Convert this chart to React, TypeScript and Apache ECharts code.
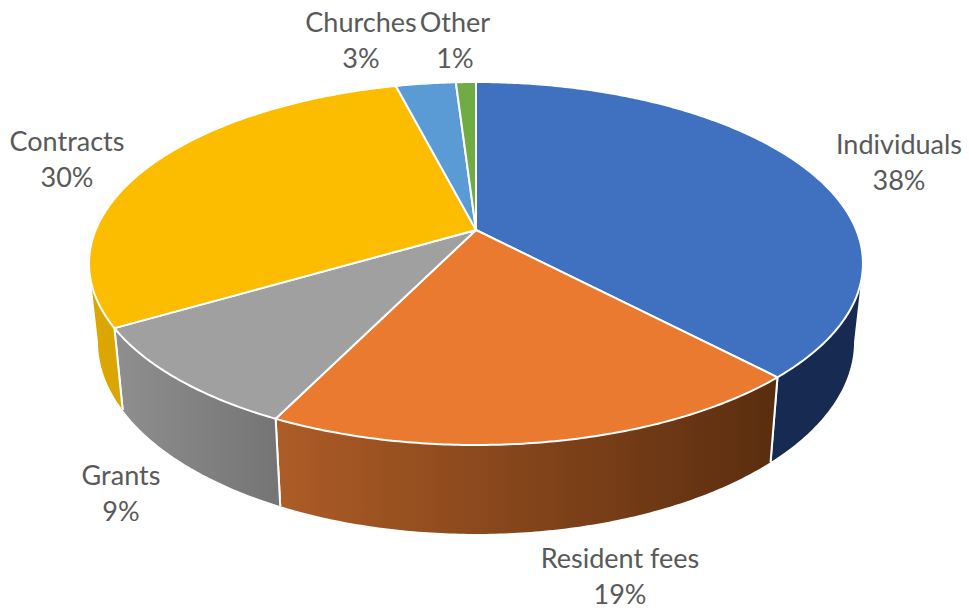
import React, { useEffect, useRef } from "react";
import * as echarts from "echarts";

const categories = ["Individuals", "Resident fees", "Grants", "Contracts", "Churches", "Other"];
const values = [38.0, 19.3, 9.3, 29.5, 3.0, 1.0];

const topColors = ["#4070c0", "#e97a30", "#a0a0a0", "#fcbc00", "#5b9bd5", "#6fac46"];
const wallColors = [
  ["#172b52", "#172b52"],
  ["#ad5c26", "#5a2d0f"],
  ["#8f8f8f", "#747474"],
  ["#dca600", "#dca600"],
  ["#3a6f9f", "#3a6f9f"],
  ["#4c7a30", "#4c7a30"],
];
const labelCentres = [
  [899, 161],
  [620, 575],
  [121, 492],
  [67, 158],
  [361, 39],
  [455, 39],
];

// Perspective of the pie's top face
const CX = 476;
const CY = 230;
const A = 380.3;
const B = 175.3;
const K = 0.1846;
const total = values.reduce((s, v) => s + v, 0);

const topPoint = (t: number) => {
  const w = 1 + K * Math.cos(t);
  return [CX + (A * Math.sin(t)) / w, CY - (B * Math.cos(t)) / w];
};
const bottomPoint = (t: number) => {
  const [x, y] = topPoint(t);
  return [CX + 0.977 * (x - CX), 1.059 * y + 62.7];
};
const sliceAngles = (i: number) => {
  const before = values.slice(0, i).reduce((s, v) => s + v, 0);
  const a0 = (before / total) * Math.PI * 2;
  const a1 = ((before + values[i]) / total) * Math.PI * 2;
  return [a0, a1];
};
const sample = (a0: number, a1: number, fn: (t: number) => number[]) => {
  const n = Math.max(2, Math.ceil(Math.abs(a1 - a0) / 0.01));
  const pts: number[][] = [];
  for (let j = 0; j <= n; j++) pts.push(fn(a0 + ((a1 - a0) * j) / n));
  return pts;
};

const VIS0 = Math.acos(-K);
const VIS1 = Math.PI * 2 - VIS0;

const renderWall = (params: any) => {
  const i = params.dataIndex;
  const [a0, a1] = sliceAngles(i);
  const s = Math.max(a0, VIS0);
  const e = Math.min(a1, VIS1);
  if (e <= s) return { type: "group", children: [] };
  const upper = sample(s, e, topPoint);
  const lower = sample(s, e, bottomPoint).reverse();
  const pts = upper.concat(lower);
  const xs = pts.map((p) => p[0]);
  const children: any[] = [
    {
      type: "polygon",
      shape: { points: pts },
      style: {
        fill: new echarts.graphic.LinearGradient(
          Math.min(...xs),
          0,
          Math.max(...xs),
          0,
          [
            { offset: 0, color: wallColors[i][0] },
            { offset: 1, color: wallColors[i][1] },
          ],
          true,
        ),
      },
    },
  ];
  [a0, a1].forEach((a) => {
    if (a > VIS0 && a < VIS1) {
      const p = topPoint(a);
      const q = bottomPoint(a);
      children.push({
        type: "line",
        shape: { x1: p[0], y1: p[1], x2: q[0], y2: q[1] },
        style: { stroke: "#ffffff", lineWidth: 2 },
      });
    }
  });
  return { type: "group", children };
};

const labelText = (text: string, x: number, y: number) => ({
  type: "text",
  x,
  y,
  style: {
    text,
    fill: "#595959",
    fontFamily: "Lato",
    fontSize: 27,
    align: "center",
    verticalAlign: "middle",
  },
});

const renderTop = (params: any, api: any) => {
  const i = params.dataIndex;
  const [a0, a1] = sliceAngles(i);
  const arc = sample(a0, a1, topPoint);
  const [lx, ly] = labelCentres[i];
  return {
    type: "group",
    children: [
      {
        type: "polygon",
        shape: { points: [[CX, CY], ...arc] },
        style: { fill: topColors[i], stroke: "#ffffff", lineWidth: 2, lineJoin: "round" },
      },
      labelText(categories[i], lx, ly - 18),
      labelText(`${Math.round(api.value(0))}%`, lx, ly + 18),
    ],
  };
};

export default function App() {
  const ref = useRef<HTMLDivElement>(null);
  useEffect(() => {
    const chart = echarts.init(ref.current!, undefined, { renderer: "svg" });
    const data = values.map((v) => [v]);
    chart.setOption({
      animation: false,
      backgroundColor: "#ffffff",
      series: [
        { type: "custom", coordinateSystem: "none", silent: true, z: 1, data, renderItem: renderWall },
        { type: "custom", coordinateSystem: "none", silent: true, z: 2, data, renderItem: renderTop },
      ],
    });
    return () => chart.dispose();
  }, []);
  return (
    <div
      ref={ref}
      style={{ position: "absolute", left: 0, top: 0, width: 969, height: 608 }}
    />
  );
}
